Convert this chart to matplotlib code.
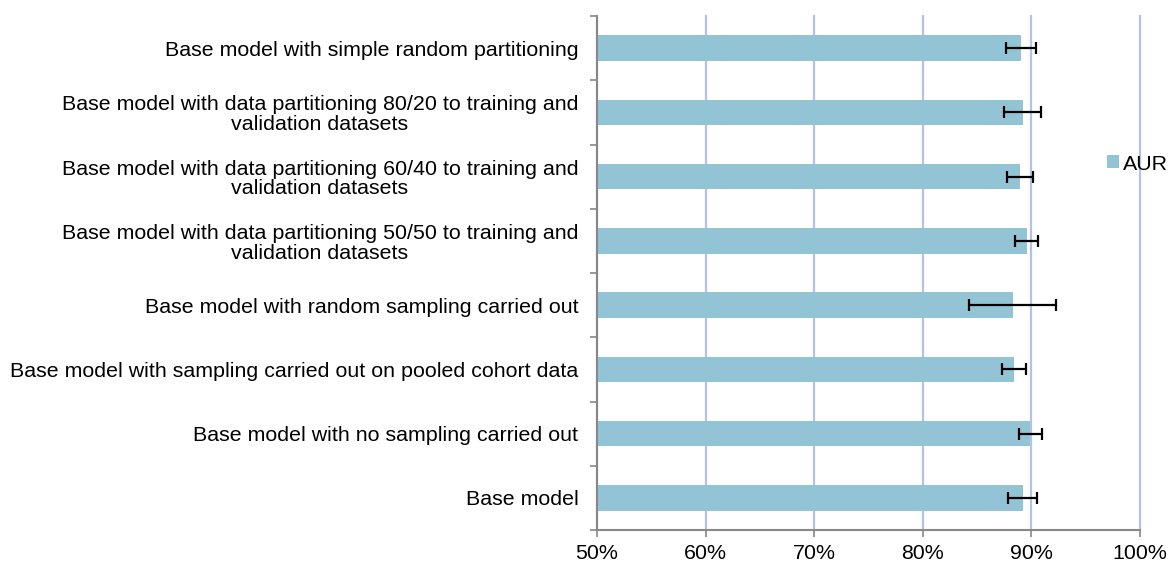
import numpy as np
import matplotlib.pyplot as plt
from matplotlib.ticker import FixedLocator

plt.rcParams['font.family'] = ['Liberation Sans', 'DejaVu Sans']

# categories, top to bottom as shown
categories = [
    'Base model with simple random partitioning',
    'Base model with data partitioning 80/20 to training and\nvalidation datasets',
    'Base model with data partitioning 60/40 to training and\nvalidation datasets',
    'Base model with data partitioning 50/50 to training and\nvalidation datasets',
    'Base model with random sampling carried out',
    'Base model with sampling carried out on pooled cohort data',
    'Base model with no sampling carried out',
    'Base model',
]
aur = [89.05, 89.2, 88.95, 89.57, 88.3, 88.4, 89.9, 89.2]
aur_err = [1.38, 1.72, 1.2, 1.07, 4.0, 1.07, 1.07, 1.36]
x_ticks = [50, 60, 70, 80, 90, 100]

fs = 15.4

fig = plt.figure(figsize=(11.73, 5.65), dpi=100)
ax = fig.add_axes([597 / 1173, 35 / 565, (1140 - 597) / 1173, (549 - 35) / 565])

y = np.arange(len(categories))
ax.barh(y, aur, height=0.4, color='#93c4d5', zorder=2, label='AUR')
ax.errorbar(aur, y, xerr=aur_err, fmt='none', ecolor='black',
            elinewidth=1.6, capsize=4.5, capthick=1.6, zorder=3)

ax.set_xlim(50, 100)
ax.set_ylim(len(categories) - 0.5, -0.5)

ax.set_xticks(x_ticks)
ax.set_xticklabels([f'{v}%' for v in x_ticks], fontsize=fs)
ax.set_yticks(y)
ax.set_yticklabels(categories, fontsize=fs, linespacing=1.05)
for lbl in ax.get_yticklabels():
    lbl.set_multialignment('center')
ax.yaxis.set_minor_locator(FixedLocator(np.arange(-0.5, len(categories), 1.0)))
ax.tick_params(axis='y', which='major', length=0, pad=13.5)
ax.tick_params(axis='y', which='minor', length=5, width=1.2, color='#888888')
ax.tick_params(axis='x', length=5, width=1.2, color='#888888', pad=5)

ax.xaxis.grid(True, color='#b3c3e6', linewidth=1.6, zorder=0)
for gl in ax.get_xgridlines():
    gl.set_clip_on(False)
ax.set_axisbelow(True)
for side in ['top', 'right']:
    ax.spines[side].set_visible(False)
for side in ['left', 'bottom']:
    ax.spines[side].set_color('#888888')
    ax.spines[side].set_linewidth(1.5)

fig.legend(loc='center left', bbox_to_anchor=(1107 / 1173, 1 - 164 / 565),
           frameon=False, fontsize=fs, handlelength=0.55, handleheight=0.55,
           handletextpad=0.2, borderpad=0, borderaxespad=0)

fig.savefig('out.png', dpi=100)
